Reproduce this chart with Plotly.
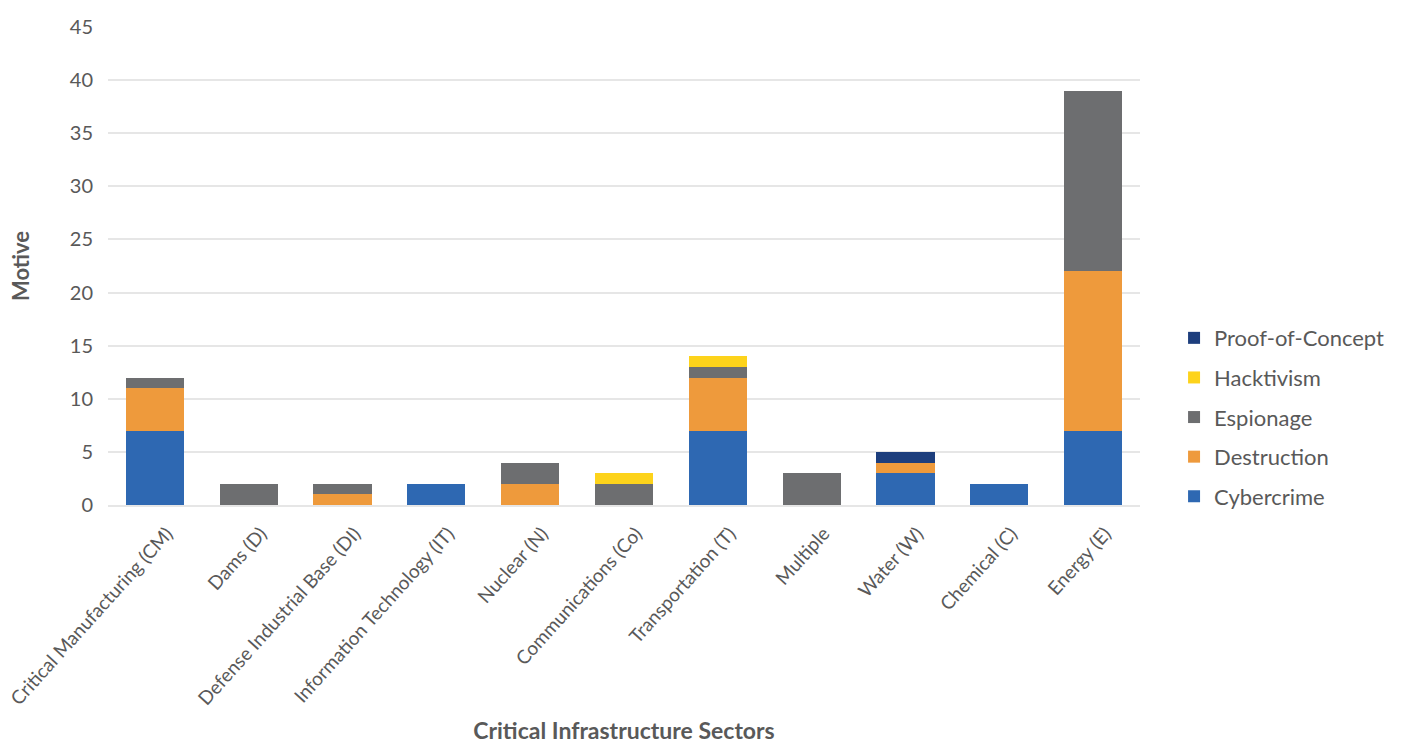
import plotly.graph_objects as go

categories = ["Critical Manufacturing (CM)", "Dams (D)", "Defense Industrial Base (DI)",
              "Information Technology (IT)", "Nuclear (N)", "Communications (Co)",
              "Transportation (T)", "Multiple", "Water (W)", "Chemical (C)", "Energy (E)"]
cybercrime = [7, 0, 0, 2, 0, 0, 7, 0, 3, 2, 7]
destruction = [4, 0, 1, 0, 2, 0, 5, 0, 1, 0, 15]
espionage = [1, 2, 1, 0, 2, 2, 1, 3, 0, 0, 17]
hacktivism = [0, 0, 0, 0, 0, 1, 1, 0, 0, 0, 0]
proof_of_concept = [0, 0, 0, 0, 0, 0, 0, 0, 1, 0, 0]
y_ticks = [0, 5, 10, 15, 20, 25, 30, 35, 40, 45]

series = [
    ("Cybercrime", cybercrime, "#2E68B2"),
    ("Destruction", destruction, "#EE9A3C"),
    ("Espionage", espionage, "#6D6E70"),
    ("Hacktivism", hacktivism, "#FDD31B"),
    ("Proof-of-Concept", proof_of_concept, "#1D3E7D"),
]

fig = go.Figure()
n = len(series)
for i, (name, vals, color) in enumerate(series):
    fig.add_trace(go.Bar(name=name, x=categories, y=vals, marker_color=color,
                         marker_line_width=0, legendgroup=name, legendrank=n - i))

font_family = "Lato, 'Open Sans', sans-serif"
fig.update_layout(
    barmode="stack",
    bargap=0.38,
    width=1401, height=744,
    margin=dict(l=108, r=261, t=27, b=239),
    paper_bgcolor="white", plot_bgcolor="white",
    font=dict(family=font_family, color="#595959"),
    legend=dict(x=1.033, y=0.184, xanchor="left", yanchor="middle",
                traceorder="grouped", tracegroupgap=8,
                font=dict(size=22, color="#595959")),
    xaxis=dict(tickangle=-48, tickfont=dict(size=19, color="#595959"),
               title=dict(text="<b>Critical Infrastructure Sectors</b>",
                          font=dict(size=23, color="#595959"), standoff=18),
               showline=True, linecolor="#E6E6E6", linewidth=2, ticks="",
               ticklabelshift=12, ticklabelstandoff=8,
               automargin=False),
    yaxis=dict(range=[0, 45], tickvals=y_ticks, tickfont=dict(size=20, color="#595959"),
               gridcolor="#E6E6E6", gridwidth=2, zeroline=False,
               title=dict(text="<b>Motive</b>", font=dict(size=22, color="#595959"), standoff=34),
               ticks="", ticklabelstandoff=14, automargin=False),
)
fig.write_html("out.html")
